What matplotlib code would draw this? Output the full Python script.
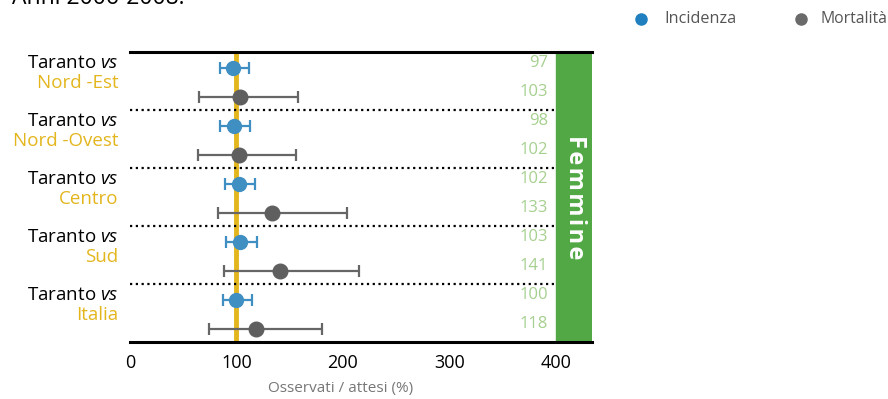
import numpy as np
import matplotlib
matplotlib.use("Agg")
import matplotlib.pyplot as plt

plt.rcParams['font.family'] = ['Open Sans', 'DejaVu Sans']
plt.rcParams['mathtext.fontset'] = 'custom'
plt.rcParams['mathtext.it'] = 'Open Sans:italic'
plt.rcParams['mathtext.rm'] = 'Open Sans'

# Dati (rapporto osservati/attesi, %)
regioni = ['Nord -Est', 'Nord -Ovest', 'Centro', 'Sud', 'Italia']
incidenza = [97, 98, 102, 103, 100]
inc_lo = [85, 85, 89, 90, 87]
inc_hi = [112, 113, 117, 119, 115]
mortalita = [103, 102, 133, 141, 118]
mort_lo = [65, 64, 83, 88, 74]
mort_hi = [158, 156, 204, 215, 180]
xticks = [0, 100, 200, 300, 400]

C_INC = '#3f8fc2'
C_MORT = '#666666'
C_GOLD = '#e3b61e'
C_GREEN = '#53a846'
C_NUM = '#a6d08f'

fig = plt.figure(figsize=(8.88, 3.99), dpi=100)
ax = fig.add_axes([130/888, 1-342/399, 462/888, 290/399])

n = len(regioni)
y_inc = np.arange(n) + 0.28
y_mort = np.arange(n) + 0.78

ax.set_xlim(0, 434)
ax.set_ylim(n, 0)

# box verde "Femmine"
ax.axvspan(400, 434, color=C_GREEN, zorder=1)
ax.text(418, n/2, 'F\u200ae\u200am\u200am\u200ai\u200an\u200ae', rotation=-90,
        ha='center', va='center', color='white', fontsize=17, fontweight='bold',
        family=['Open Sans', 'DejaVu Sans'], zorder=5)

# linea di riferimento 100
ax.axvline(100, color=C_GOLD, lw=3.5, zorder=2)

# separatori
for i in range(1, n):
    ax.plot([0, 400], [i, i], color='black', lw=1.6, ls=(0, (1, 1.6)), zorder=2)

inc = np.array(incidenza); mort = np.array(mortalita)
ax.errorbar(inc, y_inc, xerr=[inc - np.array(inc_lo), np.array(inc_hi) - inc],
             fmt='o', color=C_INC, ecolor=C_INC, ms=10, elinewidth=1.6,
             capsize=4.5, capthick=1.6, zorder=4)
ax.errorbar(mort, y_mort, xerr=[mort - np.array(mort_lo), np.array(mort_hi) - mort],
             fmt='o', color='#5f5f5f', ecolor=C_MORT, ms=10.5, elinewidth=1.6,
             capsize=4.5, capthick=1.6, zorder=4)

for i in range(n):
    ax.text(392.5, i + 0.19, str(incidenza[i]), ha='right', va='center',
            color=C_NUM, fontsize=12)
    ax.text(392.5, i + 0.69, str(mortalita[i]), ha='right', va='center',
            color=C_NUM, fontsize=12)
    ax.text(-11, i + 0.19, r'Taranto $\mathit{vs}$', ha='right', va='center',
            color='black', fontsize=13.5, clip_on=False)
    ax.text(-11, i + 0.53, regioni[i], ha='right', va='center',
            color=C_GOLD, fontsize=13.5, clip_on=False)

for s in ['left', 'right']:
    ax.spines[s].set_visible(False)
for s in ['top', 'bottom']:
    ax.spines[s].set_linewidth(2.2)
ax.set_yticks([])
ax.set_xticks(xticks)
ax.tick_params(axis='x', length=0, labelsize=13, pad=9)
ax.set_xlabel('Osservati / attesi (%)', color='#777777', fontsize=11, labelpad=6)
ax.xaxis.set_label_coords((341-130)/462, -0.135)

# titolo tagliato in alto
fig.text(12/888, 1-4/399, 'Anni 2006-2008.', fontsize=16.5, va='baseline', ha='left')

# legenda
fig.lines.append(plt.Line2D([641/888], [1-19/399], marker='o', ms=8, color='#1f7fbf',
                            transform=fig.transFigure))
fig.text(664/888, 1-19/399, 'Incidenza', va='center', fontsize=11.7, color='#555555')
fig.lines.append(plt.Line2D([801/888], [1-19/399], marker='o', ms=8, color='#6a6a6a',
                            transform=fig.transFigure))
fig.text(820/888, 1-19/399, 'Mortalità', va='center', fontsize=11.3, color='#555555')

fig.savefig('out.png', dpi=100)
